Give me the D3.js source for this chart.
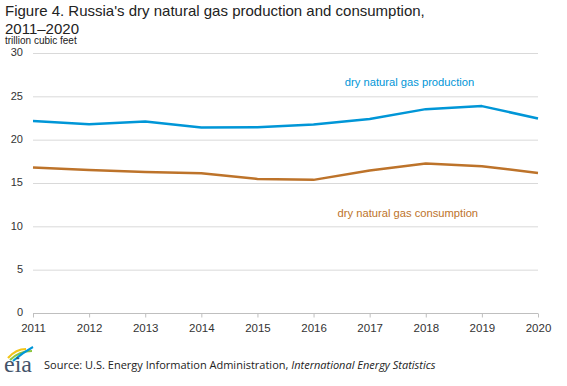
<!DOCTYPE html>
<html>
<head>
<meta charset="utf-8">
<script src="https://cdn.jsdelivr.net/npm/d3@7"></script>
<style>
	body { margin: 0; background: #fff; }
	svg { display: block; }
</style>
</head>
<body>
<svg id="chart" width="567" height="386"></svg>
<script>
// Data (trillion cubic feet)
var years = [2011, 2012, 2013, 2014, 2015, 2016, 2017, 2018, 2019, 2020];
var production = [22.2, 21.85, 22.15, 21.47, 21.5, 21.8, 22.45, 23.58, 23.93, 22.5];
var consumption = [16.84, 16.55, 16.34, 16.18, 15.53, 15.42, 16.5, 17.3, 17.0, 16.22];
var yTicks = [0, 5, 10, 15, 20, 25, 30];

var W = 567, H = 386;
var margin = {left: 33, right: 29, top: 53.5, bottom: 72.5};

var svg = d3.select("#chart");
var font = "'Liberation Sans', Arial, sans-serif";

var x = d3.scaleLinear()
	.domain([2011, 2020])
	.range([margin.left, W - margin.right]);
var y = d3.scaleLinear()
	.domain([0, 30])
	.range([H - margin.bottom, margin.top]);

// Title
var title = svg.append("text")
	.attr("x", 5).attr("y", 16)
	.style("font-family", font).style("font-size", "15px").style("fill", "#222");
title.append("tspan").attr("x", 5).text("Figure 4. Russia's dry natural gas production and consumption,");
title.append("tspan").attr("x", 5).attr("dy", 17.5).text("2011\u20132020");

svg.append("text")
	.attr("x", 5).attr("y", 44)
	.style("font-family", font).style("font-size", "10px").style("fill", "#222")
	.text("trillion cubic feet");

// Gridlines
svg.append("g").selectAll("line")
	.data(yTicks.filter(function(d) { return d > 0; }))
	.join("line")
	.attr("x1", margin.left).attr("x2", W - margin.right)
	.attr("y1", function(d) { return y(d); }).attr("y2", function(d) { return y(d); })
	.attr("stroke", "#d9d9d9").attr("stroke-width", 1);

// Y axis labels
var yAxis = d3.axisLeft(y).tickValues(yTicks).tickSize(0).tickPadding(10);
var gy = svg.append("g").attr("transform", "translate(" + margin.left + ",0)").call(yAxis);
gy.select(".domain").remove();
gy.selectAll("text")
	.style("font-family", font).style("font-size", "11px").style("fill", "#333")
	.attr("dy", "0.2em");

// X axis
var xAxis = d3.axisBottom(x).tickValues(years).tickFormat(d3.format("d")).tickSize(4).tickPadding(6);
var gx = svg.append("g").attr("transform", "translate(0," + y(0) + ")").call(xAxis);
gx.select(".domain").attr("stroke", "#bfbfbf").attr("d", "M" + margin.left + ",0H" + (W - margin.right));
gx.selectAll(".tick line").attr("stroke", "#bfbfbf");
gx.selectAll("text")
	.style("font-family", font).style("font-size", "11.5px").style("fill", "#333");

// Lines
var line = d3.line()
	.x(function(d, i) { return x(years[i]); })
	.y(function(d) { return y(d); });

svg.append("path").datum(production)
	.attr("d", line).attr("fill", "none")
	.attr("stroke", "#0096d7").attr("stroke-width", 2.5).attr("stroke-linejoin", "round");
svg.append("path").datum(consumption)
	.attr("d", line).attr("fill", "none")
	.attr("stroke", "#bd732a").attr("stroke-width", 2.5).attr("stroke-linejoin", "round");

// Series labels
svg.append("text")
	.attr("x", x(2017.71)).attr("y", 86).attr("text-anchor", "middle")
	.style("font-family", font).style("font-size", "11.2px").style("fill", "#0096d7")
	.text("dry natural gas production");
svg.append("text")
	.attr("x", x(2017.68)).attr("y", 217).attr("text-anchor", "middle")
	.style("font-family", font).style("font-size", "11.2px").style("fill", "#bd732a")
	.text("dry natural gas consumption");

// EIA logo
var logo = svg.append("g").attr("transform", "translate(4,346)");
logo.append("path").attr("d", "M4,12 Q12,3 22,3").attr("fill", "none").attr("stroke", "#f2c418").attr("stroke-width", 2.2);
logo.append("path").attr("d", "M6,14 Q15,5 28,5").attr("fill", "none").attr("stroke", "#8cc63f").attr("stroke-width", 2);
logo.append("path").attr("d", "M9,15 Q18,7 29,1").attr("fill", "none").attr("stroke", "#0096d7").attr("stroke-width", 2);
logo.append("text")
	.attr("x", 0).attr("y", 26)
	.style("font-family", "'Liberation Serif', 'DejaVu Serif', serif").style("font-size", "24px").style("fill", "#44546a")
	.text("eia");

// Source
var src = svg.append("text")
	.attr("x", 44).attr("y", 369)
	.style("font-family", "'Open Sans', sans-serif").style("font-size", "11px").style("fill", "#222");
src.append("tspan").text("Source: U.S. Energy Information Administration, ");
src.append("tspan").style("font-style", "italic").text("International Energy Statistics");
</script>
</body>
</html>
